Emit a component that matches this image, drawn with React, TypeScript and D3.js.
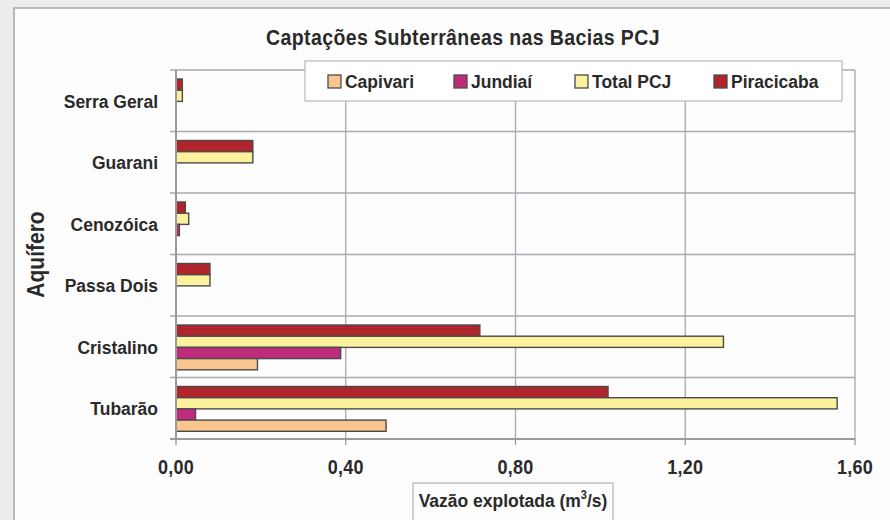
import React from "react";
import * as d3 from "d3";

const categories = ["Serra Geral", "Guarani", "Cenozóica", "Passa Dois", "Cristalino", "Tubarão"];
const seriesNames = ["Piracicaba", "Total PCJ", "Jundiaí", "Capivari"];
const piracicaba = [0.015, 0.181, 0.022, 0.08, 0.716, 1.018];
const totalPCJ = [0.015, 0.181, 0.03, 0.08, 1.29, 1.558];
const jundiai = [0, 0, 0.008, 0, 0.388, 0.046];
const capivari = [0, 0, 0, 0, 0.192, 0.495];
const xTicks = [0, 0.4, 0.8, 1.2, 1.6];
const legendOrder = ["Capivari", "Jundiaí", "Total PCJ", "Piracicaba"];

const seriesValues: Record<string, number[]> = {
  Piracicaba: piracicaba,
  "Total PCJ": totalPCJ,
  "Jundiaí": jundiai,
  Capivari: capivari,
};
const colors: Record<string, string> = {
  Capivari: "#f8c68e",
  "Jundiaí": "#c02c7c",
  "Total PCJ": "#fcf19c",
  Piracicaba: "#b0242b",
};

const W = 890;
const H = 520;
const M = { left: 176, right: 855, top: 70, bottom: 439 };
const FONT = "'Liberation Sans', Arial, sans-serif";
const legendOffsets = [0, 126, 247, 386];

function T(props: {
  x: number;
  y: number;
  size: number;
  anchor?: string;
  rotate?: number;
  spacing?: number;
  children: React.ReactNode;
}) {
  const { x, y, size, anchor = "start", rotate = 0, spacing = 0, children } = props;
  return (
    <text
      transform={`translate(${x},${y}) rotate(${rotate}) scale(1,1.1)`}
      fontFamily={FONT}
      fontWeight="bold"
      fontSize={size}
      fill="#2a2a2a"
      textAnchor={anchor}
      letterSpacing={spacing}
    >
      {children}
    </text>
  );
}

export default function App() {
  const x = d3.scaleLinear().domain([0, 1.6]).range([M.left, M.right]);
  const y = d3.scaleBand<string>().domain(categories).range([M.top, M.bottom]).padding(0);
  const bw = y.bandwidth();
  const barH = 11.2;
  const barStart = 9;
  const inner = d3
    .scaleBand<string>()
    .domain(seriesNames)
    .range([barStart, barStart + barH * seriesNames.length]);

  const bounds = categories.map((c) => y(c) as number);

  return (
    <svg
      width={W}
      height={H}
      style={{ position: "absolute", left: 0, top: 0, display: "block" }}
    >
      <rect x={0} y={0} width={W} height={H} fill="#ececec" />
      <rect x={14} y={8} width={W} height={H} fill="#fdfdfd" stroke="#a6a6a6" strokeWidth={1.5} />

      {/* title */}
      <T x={463} y={45} size={19.5} anchor="middle" spacing={0.4}>
        Captações Subterrâneas nas Bacias PCJ
      </T>

      {/* horizontal gridlines with ticks */}
      {bounds.map((b, i) => (
        <line key={"h" + i} x1={M.left - 6} x2={M.right} y1={b} y2={b} stroke="#a9a9b2" strokeWidth={1.3} />
      ))}
      {/* vertical gridlines */}
      {xTicks.map((t) =>
        t === 0 ? null : (
          <line key={"v" + t} x1={x(t)} x2={x(t)} y1={M.top} y2={M.bottom} stroke="#a9a9b2" strokeWidth={1.3} />
        )
      )}

      {/* bars */}
      {categories.map((c, ci) =>
        seriesNames.map((s) => {
          const v = seriesValues[s][ci];
          if (v <= 0) return null;
          return (
            <rect
              key={c + s}
              x={x(0)}
              y={(y(c) as number) + (inner(s) as number)}
              width={x(v) - x(0)}
              height={inner.bandwidth()}
              fill={colors[s]}
              stroke="#4a4a4a"
              strokeWidth={1.4}
            />
          );
        })
      )}

      {/* axes */}
      <line x1={M.left} x2={M.left} y1={M.top} y2={M.bottom} stroke="#9a9a9a" strokeWidth={2} />
      <line x1={M.left - 6} x2={M.right} y1={M.bottom} y2={M.bottom} stroke="#9a9a9a" strokeWidth={2} />
      {xTicks.map((t) => (
        <line key={"xt" + t} x1={x(t)} x2={x(t)} y1={M.bottom} y2={M.bottom + 6} stroke="#9a9a9a" strokeWidth={1.3} />
      ))}
      {xTicks.map((t) => (
        <T key={"xl" + t} x={x(t)} y={474} size={18} anchor="middle" spacing={0.3}>
          {d3.format(".2f")(t).replace(".", ",")}
        </T>
      ))}

      {/* category labels */}
      {categories.map((c) => (
        <T key={"cl" + c} x={158} y={(y(c) as number) + bw / 2 + 7} size={17.5} anchor="end">
          {c}
        </T>
      ))}

      {/* y-axis title */}
      <T x={44} y={(M.top + M.bottom) / 2} size={21} anchor="middle" rotate={-90}>
        Aquífero
      </T>

      {/* x-axis title */}
      <rect x={413} y={483} width={200} height={60} fill="#fdfdfd" stroke="#b5b5b5" strokeWidth={1.2} />
      <text
        transform={`translate(513,507) scale(1,1.1)`}
        fontFamily={FONT}
        fontWeight="bold"
        fontSize={17.5}
        fill="#2a2a2a"
        textAnchor="middle"
      >
        Vazão explotada (m
        <tspan fontSize={11} dy={-7}>3</tspan>
        <tspan dy={7}>/s)</tspan>
      </text>

      {/* legend */}
      <rect x={305} y={61} width={537} height={40} fill="#ffffff" stroke="#bdbdbd" strokeWidth={1.3} />
      {legendOrder.map((s, i) => (
        <g key={"lg" + s} transform={`translate(${328 + legendOffsets[i]},0)`}>
          <rect x={0} y={75} width={13} height={13} fill={colors[s]} stroke="#4a4a4a" strokeWidth={1.3} />
          <T x={17} y={88} size={17.5}>
            {s}
          </T>
        </g>
      ))}
    </svg>
  );
}
